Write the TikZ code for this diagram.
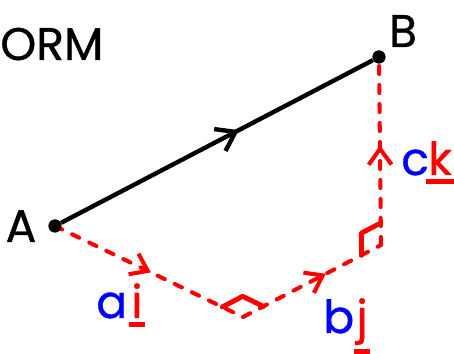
\documentclass[tikz,border=0pt]{standalone}
\usepackage{fontspec}
\setmainfont{Poppins}[FakeBold=0.8]
\usepackage{xcolor}
\usetikzlibrary{calc, arrows.meta}
\usetikzlibrary{decorations.markings}

\newcommand\uvec[1]{\setbox0\hbox{#1}\rlap{\hspace{-0.05em}\rule[\dimexpr-\dp0-0.2em\relax]{\dimexpr\wd0+0.1em\relax}{0.11em}}#1}

\tikzset{
 dot/.style={circle, fill=black, inner sep=0pt, minimum size=0.26cm},
 lbl/.style={inner sep=0pt, anchor=base west},
 vecline/.style={line width=2.5pt, postaction={decorate},
   decoration={markings, mark=at position #1 with {\arrow{Straight Barb[length=10pt,width=14pt]}}}},
 compline/.style={red, line width=2.3pt, line cap=round, dash pattern=on 0.16cm off 0.22cm, postaction={decorate},
   decoration={markings, mark=at position #1 with {\arrow{Straight Barb[length=9pt,width=13pt]}}}},
 rightmark/.style={red, line width=2.8pt, line cap=round, line join=round},
}

\begin{document}
\begin{tikzpicture}[x=0.02cm, y=-0.02cm, font=\fontsize{26}{30}\selectfont]
\useasboundingbox (0,0) rectangle (454,354);

 \node[dot] (A) at (55,226) {};
 \node[dot] (B) at (379,57) {};
 \coordinate (P) at (243,317);
 \coordinate (Q) at (381,245);

 %right angle corners:
 \coordinate (P1) at ($(P)!0.46cm!(A)$);
 \coordinate (P2) at ($(P)!0.46cm!(Q)$);
 \coordinate (P3) at ($(P1)+(P2)-(P)$);
 \coordinate (Q1) at ($(Q)!0.44cm!(P)$);
 \coordinate (Q2) at ($(Q)!0.44cm!(B)$);
 \coordinate (Q3) at ($(Q1)+(Q2)-(Q)$);

 \draw[compline=0.51] (A.center) -- (P);
 \draw[compline=0.6] (P) -- (Q);
 \draw[compline=0.53] (Q) -- (B.center);
 \draw[rightmark] (P1) -- (P3) -- (P2);
 \draw[rightmark] (Q1) -- (Q3) -- (Q2);

 \draw[vecline=0.57] (A) -- (B);
 \node[dot] at (A) {};
 \node[dot] at (B) {};

 %labels:
 \node[lbl] (ORM) at (0,60) {ORM};
 \node[inner sep=0pt, anchor=base] (lA) at (21,242) {A};
 \node[inner sep=0pt, anchor=base] (lB) at (403,47) {B};
 \node[lbl, blue] (la) at (96,318) {a};
 \node[lbl, red] (li) at (131,318) {\uvec{i}};
 \node[lbl, blue] (lb) at (323,333) {b};
 \node[lbl, red] (lj) at (356,333) {\uvec{j}};
 \node[lbl, blue] (lc) at (401,175) {c};
 \node[lbl, red] (lk) at (428,175) {\uvec{k}};

\end{tikzpicture}
\end{document}
